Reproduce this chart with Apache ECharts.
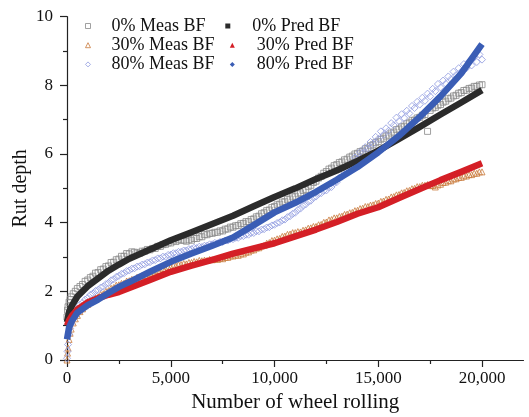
<!DOCTYPE html>
<html>
<head>
<meta charset="utf-8">
<script src="https://cdn.jsdelivr.net/npm/echarts@6/dist/echarts.min.js"></script>
<style>html,body{margin:0;padding:0;background:#fff;}#c{width:529px;height:417px;}</style>
</head>
<body>
<div id="c"></div>
<script>
// ---- data ----
const X_TICKS = [0, 5000, 10000, 15000, 20000];
const X_MINOR = [2500, 7500, 12500, 17500];
const Y_TICKS = [0, 2, 4, 6, 8, 10];

const MEAS_X = [0,25,50,100,150,200,300,400,
  500,625,750,875,1000,1125,1250,1375,1500,1625,1750,1875,2000,2125,2250,2375,
  2500,2625,2750,2875,3000,3125,3250,3375,3500,3625,3750,3875,4000,4125,4250,4375,
  4500,4625,4750,4875,5000,5125,5250,5375,5500,5625,5750,5875,6000,6125,6250,6375,
  6500,6625,6750,6875,7000,7125,7250,7375,7500,7625,7750,7875,8000,8125,8250,8375,
  8500,8625,8750,8875,9000,9125,9250,9375,9500,9625,9750,9875,10000,10125,10250,10375,
  10500,10625,10750,10875,11000,11125,11250,11375,11500,11625,11750,11875,12000,12125,12250,12375,
  12500,12625,12750,12875,13000,13125,13250,13375,13500,13625,13750,13875,14000,14125,14250,14375,
  14500,14625,14750,14875,15000,15125,15250,15375,15500,15625,15750,15875,16000,16125,16250,16375,
  16500,16625,16750,16875,17000,17125,17250,17375,17500,17625,17750,17875,18000,18125,18250,18375,
  18500,18625,18750,18875,19000,19125,19250,19375,19500,19625,19750,19875,20000];

const MEAS_0 = [1.25,1.45,1.55,1.68,1.76,1.84,1.93,2.0,
  2.08,2.14,2.2,2.29,2.33,2.4,2.44,2.53,2.55,2.63,2.65,2.72,2.74,2.84,2.85,2.92,
  2.94,3.02,3.02,3.1,3.09,3.15,3.14,3.12,3.11,3.17,3.17,3.22,3.21,3.25,3.25,3.31,
  3.31,3.36,3.37,3.41,3.41,3.47,3.45,3.5,3.49,3.49,3.46,3.5,3.49,3.54,3.54,3.59,
  3.59,3.65,3.65,3.69,3.69,3.72,3.72,3.76,3.76,3.81,3.82,3.87,3.87,3.91,3.92,3.97,
  3.98,4.03,4.03,4.09,4.11,4.17,4.19,4.26,4.29,4.35,4.37,4.44,4.47,4.52,4.54,4.6,
  4.61,4.67,4.69,4.75,4.77,4.84,4.87,4.94,4.97,5.05,5.09,5.17,5.21,5.3,5.35,5.44,
  5.49,5.56,5.59,5.66,5.69,5.75,5.77,5.83,5.85,5.91,5.94,6.0,6.02,6.07,6.09,6.15,
  6.17,6.24,6.27,6.33,6.36,6.43,6.46,6.52,6.55,6.61,6.64,6.71,6.73,6.79,6.81,6.88,
  6.91,6.97,6.99,7.05,7.07,7.13,7.15,6.66,7.27,7.34,7.36,7.42,7.44,7.51,7.54,7.61,
  7.63,7.69,7.71,7.77,7.79,7.85,7.86,7.91,7.92,7.97,7.97,8.01,8.02];

const MEAS_30 = [0.0,0.2,0.35,0.6,0.78,0.9,1.08,1.2,
  1.3,1.41,1.49,1.58,1.62,1.71,1.74,1.81,1.84,1.91,1.93,2.0,2.02,2.09,2.11,2.18,
  2.19,2.23,2.24,2.3,2.31,2.35,2.36,2.41,2.42,2.46,2.46,2.51,2.51,2.56,2.56,2.61,
  2.61,2.66,2.66,2.71,2.71,2.74,2.74,2.78,2.78,2.81,2.8,2.84,2.84,2.87,2.86,2.9,
  2.89,2.91,2.9,2.93,2.92,2.94,2.93,2.96,2.95,2.99,2.99,3.03,3.03,3.06,3.05,3.09,
  3.09,3.14,3.15,3.2,3.21,3.26,3.27,3.32,3.34,3.4,3.42,3.48,3.49,3.53,3.54,3.6,
  3.61,3.66,3.67,3.71,3.71,3.74,3.73,3.78,3.79,3.84,3.85,3.89,3.89,3.94,3.95,4.01,
  4.02,4.08,4.09,4.14,4.14,4.18,4.19,4.24,4.25,4.29,4.3,4.35,4.36,4.41,4.42,4.47,
  4.47,4.51,4.52,4.56,4.57,4.62,4.63,4.68,4.69,4.75,4.76,4.81,4.82,4.87,4.88,4.93,
  4.94,4.99,5.0,5.05,5.05,5.09,5.09,5.11,5.08,5.08,5.04,5.1,5.12,5.17,5.18,5.22,
  5.22,5.27,5.28,5.32,5.32,5.36,5.36,5.4,5.4,5.44,5.44,5.48,5.48];

const MEAS_80 = [0.05,0.25,0.45,0.75,0.92,1.05,1.25,1.38,
  1.5,1.61,1.67,1.76,1.81,1.9,1.94,2.01,2.04,2.11,2.14,2.21,2.24,2.32,2.35,2.42,
  2.45,2.51,2.53,2.59,2.61,2.66,2.67,2.72,2.73,2.78,2.79,2.84,2.85,2.9,2.91,2.96,
  2.96,3.01,3.01,3.06,3.07,3.11,3.11,3.15,3.15,3.19,3.19,3.23,3.23,3.27,3.26,3.3,
  3.29,3.33,3.33,3.37,3.37,3.41,3.4,3.44,3.44,3.48,3.48,3.52,3.52,3.56,3.56,3.61,
  3.61,3.65,3.65,3.7,3.7,3.75,3.75,3.8,3.81,3.86,3.87,3.92,3.94,3.99,4.01,4.07,
  4.09,4.16,4.19,4.26,4.29,4.37,4.41,4.49,4.53,4.61,4.64,4.73,4.76,4.84,4.86,4.93,
  4.94,5.03,5.04,5.15,5.18,5.31,5.34,5.48,5.5,5.7,5.7,5.9,5.86,6.06,6.02,6.2,
  6.16,6.35,6.3,6.5,6.44,6.66,6.56,6.75,6.68,6.9,6.84,7.06,6.96,7.16,7.05,7.26,
  7.18,7.4,7.34,7.52,7.44,7.64,7.55,7.76,7.68,7.9,7.83,8.04,7.94,8.14,8.05,8.26,
  8.18,8.4,8.3,8.5,8.4,8.62,8.5,8.7,8.58,8.82,8.68,8.9,8.75];

const PRED_X = [0,100,250,500,1000,1500,2000,2500,3000,4000,5000,6000,7000,8000,9000,10000,11000,12000,13000,14000,15000,16000,17000,18000,19000,20000];
const PRED_0  = [1.1,1.4,1.6,1.85,2.15,2.38,2.6,2.78,2.95,3.22,3.49,3.72,3.96,4.2,4.48,4.75,5.0,5.27,5.52,5.8,6.1,6.44,6.79,7.15,7.5,7.86];
const PRED_30 = [1.0,1.15,1.3,1.47,1.68,1.8,1.9,1.98,2.1,2.33,2.57,2.75,2.92,3.1,3.25,3.4,3.6,3.8,4.02,4.26,4.45,4.72,4.98,5.24,5.48,5.73];
const PRED_80 = [0.6,0.95,1.15,1.38,1.6,1.76,1.95,2.13,2.27,2.57,2.86,3.1,3.33,3.57,3.93,4.3,4.58,4.9,5.25,5.62,6.05,6.53,7.08,7.68,8.35,9.2];

const NAMES = ['0% Meas BF','0% Pred BF','30% Meas BF','30% Pred BF','80% Meas BF','80% Pred BF'];

// ---- chart ----
const FONT = 'Liberation Serif';
const pairs = (xs, ys) => xs.map((x, i) => [x, ys[i]]);
const fmt = v => String(v).replace(/\B(?=(\d{3})+(?!\d))/g, ',');

const meas = (name, ys, symbol, size, color) => ({
  name, type: 'scatter', data: pairs(MEAS_X, ys), symbol, symbolSize: size,
  itemStyle: { color: 'rgba(255,255,255,0)', borderColor: color, borderWidth: 1 },
  emphasis: { disabled: true }, silent: true
});
const pred = (name, ys, color) => ({
  name, type: 'line', data: pairs(PRED_X, ys), showSymbol: false, smooth: false,
  color, lineStyle: { color, width: 6.5, cap: 'butt', join: 'round' }, emphasis: { disabled: true }, silent: true
});

const legendText = { fontFamily: FONT, fontSize: 18, color: '#111', lineHeight: 18 };
const legendBase = { orient: 'vertical', itemWidth: 5, itemHeight: 5, itemGap: 1.2, padding: 0, selectedMode: false };

const chart = echarts.init(document.getElementById('c'), null, { renderer: 'canvas' });
chart.setOption({
  animation: false,
  backgroundColor: '#fff',
  grid: { left: 67, right: 5.5, top: 16.7, bottom: 57, outerBoundsMode: 'none' },
  legend: [
    Object.assign({}, legendBase, { left: 85, top: 17, itemStyle: { borderWidth: 1 },
      data: [{ name: NAMES[0], icon: 'rect' }, { name: NAMES[2], icon: 'triangle' }, { name: NAMES[4], icon: 'diamond' }],
      textStyle: Object.assign({ padding: [0, 0, 0, 16] }, legendText) }),
    Object.assign({}, legendBase, { left: 225.3, top: 17, itemStyle: { borderWidth: 0 },
      data: [{ name: NAMES[1], icon: 'rect' }],
      textStyle: Object.assign({ padding: [0, 0, 0, 17] }, legendText) }),
    Object.assign({}, legendBase, { left: 229.8, top: 36.2, itemStyle: { borderWidth: 0 },
      data: [{ name: NAMES[3], icon: 'triangle' }, { name: NAMES[5], icon: 'diamond' }],
      textStyle: Object.assign({ padding: [0, 0, 0, 17] }, legendText) })
  ],
  xAxis: [
    { type: 'value', min: 0, max: 22000, interval: 5000, position: 'bottom',
      axisLine: { onZero: false, lineStyle: { color: '#222', width: 1.2 } },
      axisTick: { customValues: X_TICKS, length: 7, lineStyle: { color: '#222', width: 1.2 } },
      axisLabel: { customValues: X_TICKS, formatter: fmt, margin: 10, fontFamily: FONT, fontSize: 17, color: '#111' },
      splitLine: { show: false },
      name: 'Number of wheel rolling', nameLocation: 'middle', nameGap: 32, nameMoveOverlap: false,
      nameTextStyle: { fontFamily: FONT, fontSize: 21, color: '#111' } },
    { type: 'value', min: 0, max: 22000, position: 'bottom',
      axisLine: { show: false, onZero: false },
      axisTick: { customValues: X_MINOR, length: 4, lineStyle: { color: '#222', width: 1.2 } },
      axisLabel: { show: false }, splitLine: { show: false } }
  ],
  yAxis: {
    type: 'value', min: Y_TICKS[0], max: Y_TICKS[Y_TICKS.length - 1], interval: 2,
    axisLine: { show: true, lineStyle: { color: '#222', width: 1.2 } },
    axisTick: { show: true, length: 7, lineStyle: { color: '#222', width: 1.2 } },
    minorTick: { show: true, splitNumber: 2, length: 4, lineStyle: { color: '#222', width: 1.2 } },
    axisLabel: { margin: 14, fontFamily: FONT, fontSize: 17, color: '#111' },
    splitLine: { show: false },
    name: 'Rut depth', nameLocation: 'middle', nameGap: 36, nameMoveOverlap: false,
    nameTextStyle: { fontFamily: FONT, fontSize: 20, color: '#111' }
  },
  series: [
    meas(NAMES[0], MEAS_0, 'rect', 6, '#8a8a8a'),
    pred(NAMES[1], PRED_0, '#2b2b2b'),
    meas(NAMES[2], MEAS_30, 'triangle', 6, '#c97a3c'),
    pred(NAMES[3], PRED_30, '#d41f26'),
    meas(NAMES[4], MEAS_80, 'diamond', 7, '#8f9ae0'),
    pred(NAMES[5], PRED_80, '#3a5db5')
  ]
});
</script>
</body>
</html>
